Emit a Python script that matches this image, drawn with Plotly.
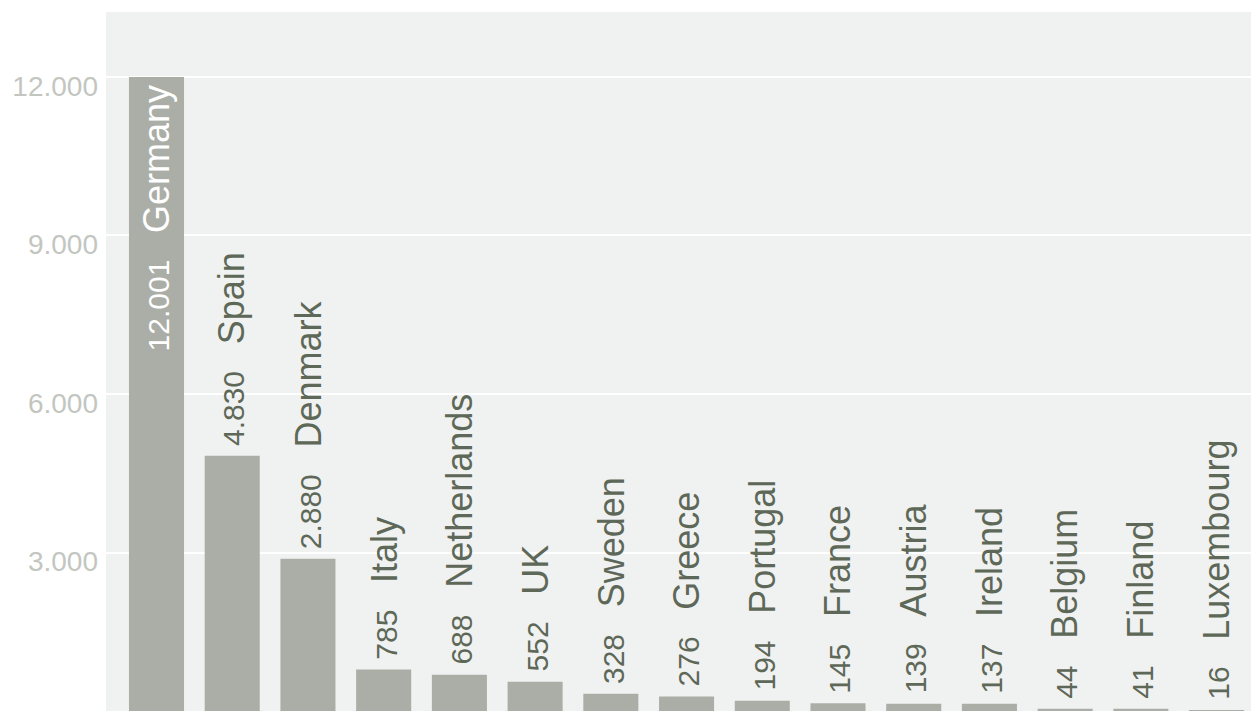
import plotly.graph_objects as go

countries = ["Germany", "Spain", "Denmark", "Italy", "Netherlands", "UK", "Sweden",
             "Greece", "Portugal", "France", "Austria", "Ireland", "Belgium",
             "Finland", "Luxembourg"]
values = [12001, 4830, 2880, 785, 688, 552, 328, 276, 194, 145, 139, 137, 44, 41, 16]
tick_vals = [3000, 6000, 9000, 12000]
tick_text = ["3.000", "6.000", "9.000", "12.000"]

BAR = "#abaea7"
BG = "#f0f2f1"
LABEL = "#5e6858"
TICK = "#c3c6c0"
FONT = "Liberation Sans, Arial, sans-serif"


def fmt(v):
    return f"{v:,}".replace(",", ".")


fig = go.Figure(go.Bar(x=countries, y=values, marker_color=BAR,
                       marker_line_width=0, hoverinfo="skip"))

annotations = []
max_v = max(values)
for c, v in zip(countries, values):
    txt = ("<span style='font-size:30px'>" + fmt(v) + "\u00a0\u00a0</span>\u00a0" + c)
    if v == max_v:
        annotations.append(dict(x=c, y=v, text=txt, textangle=-90, showarrow=False,
                                xanchor="center", yanchor="top", yshift=-7,
                                font=dict(family=FONT, size=36, color="white")))
    else:
        annotations.append(dict(x=c, y=v, text=txt, textangle=-90, showarrow=False,
                                xanchor="center", yanchor="bottom", yshift=8,
                                font=dict(family=FONT, size=36, color=LABEL)))

fig.update_layout(
    width=1251, height=703,
    margin=dict(l=98, r=0, t=4, b=0),
    paper_bgcolor="white", plot_bgcolor=BG,
    bargap=0.273,
    showlegend=False,
    annotations=annotations,
    xaxis=dict(range=[-0.667, 14.56], showticklabels=False, showgrid=False,
               zeroline=False, ticks=""),
    yaxis=dict(range=[0, 13230], tickvals=tick_vals, ticktext=tick_text,
               showgrid=True, gridcolor="white", gridwidth=2, zeroline=False,
               ticks="", ticklabelstandoff=7, ticklabelshift=9,
               tickfont=dict(family=FONT, size=28, color=TICK)),
)

fig.write_html("out.html")
